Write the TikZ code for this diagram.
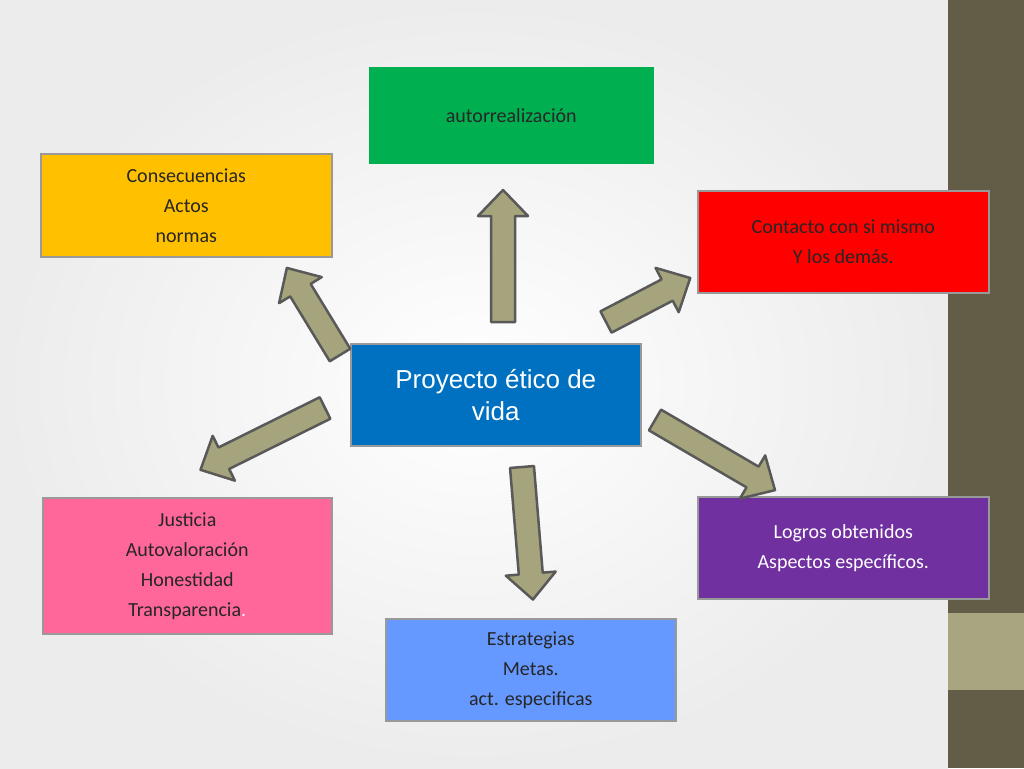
\documentclass[tikz,border=0pt]{standalone}
\usepackage{fontspec}
\setmainfont{Carlito}
\newfontfamily\arialf{Liberation Sans}
\definecolor{olivedark}{HTML}{635D48}
\definecolor{olivelight}{HTML}{A8A580}
\definecolor{arrfill}{HTML}{A6A47C}
\definecolor{gbox}{HTML}{00B050}
\definecolor{obox}{HTML}{FFC000}
\definecolor{rbox}{HTML}{FF0000}
\definecolor{cbox}{HTML}{0070C0}
\definecolor{pbox}{HTML}{FF6699}
\definecolor{lbox}{HTML}{6699FF}
\definecolor{vbox}{HTML}{7030A0}
\definecolor{txtd}{HTML}{262626}
\tikzset{
 box/.style={draw=gray!80, line width=1.5pt, minimum width=290pt, minimum height=102pt, inner sep=0, align=center, font=\fontsize{20}{30}\selectfont, text=txtd, anchor=north west},
 arr/.style={fill=arrfill, draw=gray!70!black, line width=2.5pt, line join=round}
}
\newcommand\blockarrow[3]{\begin{scope}[shift={(#1)},rotate=#3]
 \draw[arr] (0,-12)--(#2-26,-12)--(#2-26,-25)--(#2,0)--(#2-26,25)--(#2-26,12)--(0,12)--cycle;
\end{scope}}
\begin{document}
\begin{tikzpicture}[x=1pt,y=-1pt]
\useasboundingbox (0,0) rectangle (1024,768);
\shade[inner color=white, outer color=gray!15] (0,0) rectangle (948,768);
\fill[olivedark] (948,0) rectangle (1024,768);
\fill[olivelight] (948,613) rectangle (1024,690);
\node[box, fill=gbox, draw=none, minimum width=285pt, minimum height=97pt] (auto) at (368,66) {autorrealización};
\node[box, fill=obox, minimum width=291pt, minimum height=103pt] (cons) at (40,153) {Consecuencias\\Actos\\normas};
\node[box, fill=rbox, minimum width=291pt] (cont) at (697,190) {Contacto con si mismo\\Y los demás.};
\node[box, fill=cbox, minimum width=290pt, text=white, font=\arialf\fontsize{26}{32}\selectfont] (proj) at (350,343) {Proyecto ético de\\vida};
\node[box, fill=pbox, minimum width=289pt, minimum height=136pt] (just) at (42,497) {Justicia\\Autovaloración\\Honestidad\\Transparencia\textcolor{white}{.}};
\node[box, fill=lbox, minimum width=290pt] (estr) at (385,618) {Estrategias\\Metas.\\act. especificas};
\node[box, fill=vbox, minimum width=291pt, text=white] (logr) at (697,496) {Logros obtenidos\\Aspectos específicos.};
\blockarrow{503,322}{132}{90}
\blockarrow{340,355}{102}{121.4}
\blockarrow{606,322}{95}{27.6}
\blockarrow{325,408}{139}{206.4}
\blockarrow{522,467}{133}{-85.3}
\blockarrow{655,420}{139}{-30.3}
\end{tikzpicture}
\end{document}
